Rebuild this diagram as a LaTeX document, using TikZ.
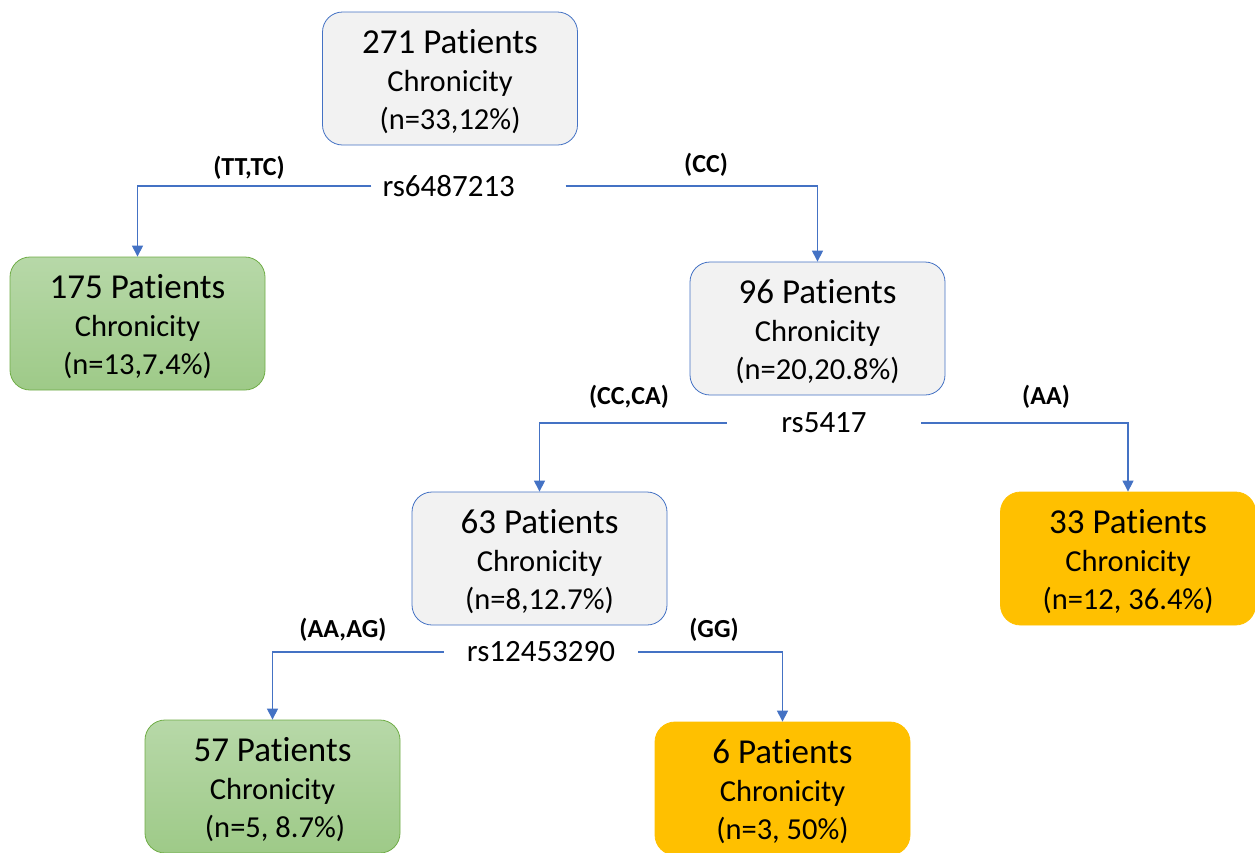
\documentclass[tikz,border=0pt]{standalone}
\usepackage{fontspec}
\setmainfont{Carlito}[Ligatures={NoCommon,NoRare,NoContextual}]
\usetikzlibrary{arrows.meta}
\definecolor{bord}{RGB}{68,114,196}
\definecolor{grayfill}{RGB}{242,242,242}
\definecolor{gtop}{RGB}{183,216,168}
\definecolor{gbot}{RGB}{158,202,136}
\definecolor{gbord}{RGB}{112,173,71}
\definecolor{orng}{RGB}{255,192,0}
\tikzset{
  box/.style={rounded corners=20pt, minimum width=255pt, minimum height=133pt, align=center, inner sep=0pt, font=\fontsize{30.5}{38}\selectfont},
  graybox/.style={box, draw=bord, line width=0.8pt, fill=grayfill},
  greenbox/.style={box, draw=gbord, line width=0.8pt, top color=gtop, bottom color=gbot},
  orangebox/.style={box, draw=orng, line width=0.8pt, fill=orng},
  split/.style={font=\fontsize{31}{36}\selectfont, minimum width=194pt, inner xsep=0pt, inner ysep=2pt},
  lab/.style={font=\bfseries\fontsize{26}{30}\selectfont},
  conn/.style={draw=bord, line width=1.1pt, -{Triangle[width=11pt,length=11pt]}},
}
\newcommand{\ptext}[3]{\fontsize{35}{38}\selectfont\rule{0pt}{31pt}#1\\#2\\#3}
\begin{document}
\begin{tikzpicture}[x=1pt,y=-1pt]
\useasboundingbox (0,0) rectangle (1255,852);
% nodes
\node[graybox] (n271) at (450,78.5) {\ptext{271 Patients}{Chronicity}{(n=33,12\%)}};
\node[greenbox] (n175) at (137.5,323.5) {\ptext{175 Patients}{Chronicity}{(n=13,7.4\%)}};
\node[graybox] (n96) at (817.5,328.5) {\ptext{96 Patients}{Chronicity}{(n=20,20.8\%)}};
\node[graybox] (n63) at (539.5,558.5) {\ptext{63 Patients}{Chronicity}{(n=8,12.7\%)}};
\node[orangebox] (n33) at (1128,558.5) {\ptext{33 Patients}{Chronicity}{(n=12, 36.4\%)}};
\node[greenbox] (n57) at (272.5,786.5) {\ptext{57 Patients}{Chronicity}{\,(n=5, 8.7\%)}};
\node[orangebox] (n6) at (782.5,788.5) {\ptext{6 Patients}{Chronicity}{(n=3, 50\%)}};
% split labels
\node[split, text width=194pt, align=left] (s1) at (468.5,186) {\hspace*{11pt}rs6487213};
\node[split] (s2) at (824,423) {rs5417};
\node[split] (s3) at (541,652) {rs12453290};
% branch labels
\node[lab] (l1) at (249,168) {(TT,TC)};
\node[lab] (l2) at (706,165) {(CC)};
\node[lab] (l3) at (629,397) {(CC,CA)};
\node[lab] (l4) at (1046,397) {(AA)};
\node[lab] (l5) at (343,630) {(AA,AG)};
\node[lab] (l6) at (714,630) {(GG)};
% connectors
\draw[conn] (s1.west) -| (n175.north);
\draw[conn] (s1.east) -| (n96.north);
\draw[conn] (s2.west) -| (n63.north);
\draw[conn] (s2.east) -| (n33.north);
\draw[conn] (s3.west) -| (n57.north);
\draw[conn] (s3.east) -| (n6.north);
\end{tikzpicture}
\end{document}
